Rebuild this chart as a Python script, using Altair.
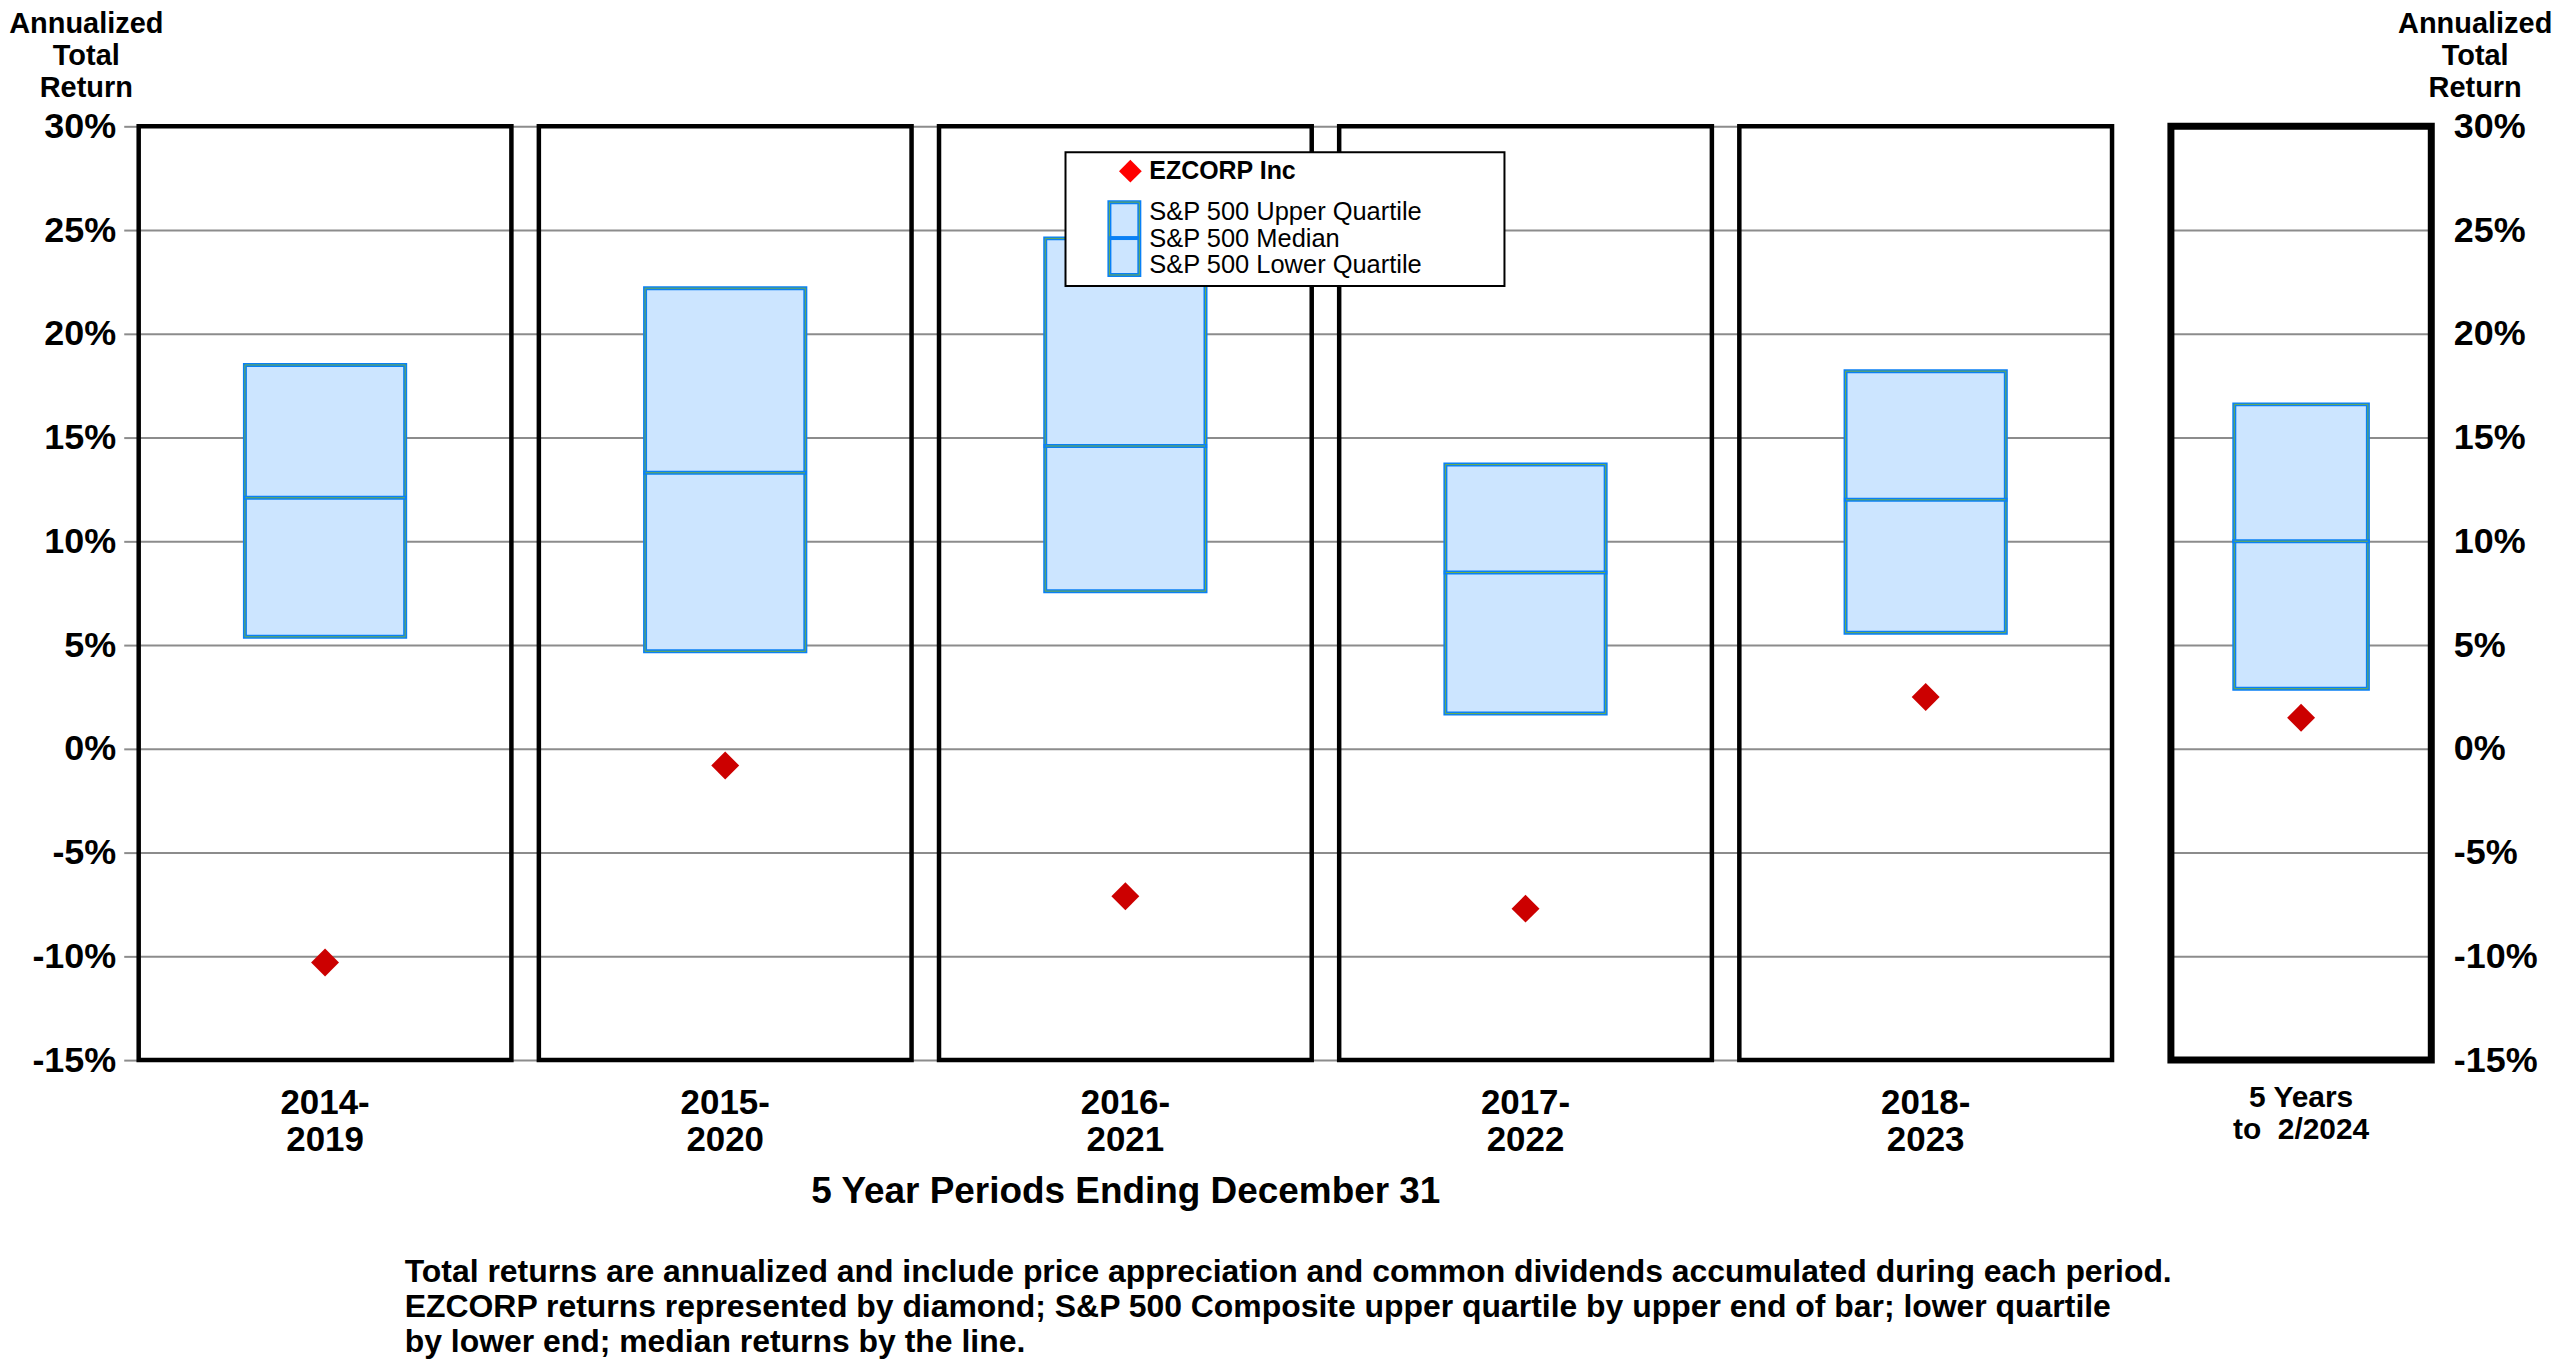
import altair as alt
import pandas as pd

FONT = "Liberation Sans"

# ---- data (annualized total return, %) ----
periods = ["2014-|2019", "2015-|2020", "2016-|2021", "2017-|2022", "2018-|2023"]
sp_upper = [18.5, 22.2, 24.6, 13.7, 18.2]
sp_median = [12.1, 13.3, 14.6, 8.5, 12.0]
sp_lower = [5.4, 4.7, 7.6, 1.7, 5.6]
ezcorp = [-10.3, -0.8, -7.1, -7.7, 2.5]

last_period = ["5 Years|to\u00a0 2/2024"]
last_upper = [16.6]
last_median = [10.0]
last_lower = [2.9]
last_ezcorp = [1.5]

y_domain = [-15, 30]
y_ticks = [-15, -10, -5, 0, 5, 10, 15, 20, 25, 30]

y_title = ["Annualized", "Total", "Return"]
x_title = "5 Year Periods Ending December 31"
legend_company = "EZCORP Inc"
legend_sp = ["S&P 500 Upper Quartile", "S&P 500 Median", "S&P 500 Lower Quartile"]
footnote = [
    "Total returns are annualized and include price appreciation and common dividends accumulated during each period.",
    "EZCORP returns represented by diamond; S&P 500 Composite upper quartile by upper end of bar; lower quartile",
    "by lower end; median returns by the line.",
]

BOX_FILL = "#cce5ff"
BOX_STROKE = "#0a80f5"
BOX_INNER = "#6fae4a"
GRID = "#8c8c8c"


def make_df(p, up, med, low, ez):
    return pd.DataFrame({
        "period": p, "upper": up, "median": med, "lower": low, "ezcorp": ez,
        "lo": [y_domain[0]] * len(p), "hi": [y_domain[1]] * len(p),
    })


def y_axis(orient, title_x, label_pad, ticks):
    kw = dict(
        orient=orient, values=y_ticks, labelExpr="datum.value + '%'",
        labelFont=FONT, labelFontSize=36, labelFontWeight="bold", labelColor="black",
        labelPadding=label_pad, grid=True, gridColor=GRID, gridWidth=2,
        domain=False, titleFont=FONT, titleFontSize=29, titleFontWeight="bold",
        titleColor="black", titleAngle=0, titleAlign="center", titleBaseline="alphabetic",
        titleX=title_x, titleY=-94, titleLineHeight=32,
    )
    if ticks:
        kw.update(ticks=True, tickSize=15, tickColor=GRID, tickWidth=2)
    else:
        kw.update(ticks=False, tickSize=0)
    return alt.Axis(**kw)


def panel(df, width, pad_inner, frame_w, box_frac, tick_size, yax, xax):
    order = list(df["period"])
    yscale = alt.Scale(domain=y_domain, nice=False, zero=False)
    x = alt.X("period:N", sort=order, scale=alt.Scale(paddingInner=pad_inner, paddingOuter=0), axis=xax)

    def Y(f):
        return alt.Y(f, scale=yscale, axis=yax, title=y_title)

    base = alt.Chart(df)
    frame = base.mark_bar(fill="white", fillOpacity=0, stroke="black", strokeWidth=frame_w).encode(
        x=x, y=Y("lo:Q"), y2="hi:Q")
    box = base.mark_bar(width=alt.RelativeBandSize(box_frac), fill=BOX_FILL, stroke=BOX_STROKE,
                        strokeWidth=4).encode(x=x, y=Y("lower:Q"), y2="upper:Q")
    box_inner = base.mark_bar(width=alt.RelativeBandSize(box_frac), fill="white", fillOpacity=0,
                              stroke=BOX_INNER, strokeWidth=1).encode(x=x, y=Y("lower:Q"), y2="upper:Q")
    med = base.mark_tick(color=BOX_STROKE, thickness=4, size=tick_size, opacity=1).encode(
        x=x, y=Y("median:Q"))
    med_inner = base.mark_tick(color=BOX_INNER, thickness=1, size=tick_size - 4, opacity=1).encode(
        x=x, y=Y("median:Q"))
    pts = base.mark_point(shape="diamond", filled=True, color="#cc0000", size=784, opacity=1,
                          strokeWidth=0).encode(x=x, y=Y("ezcorp:Q"))
    return [frame, box, box_inner, med, med_inner, pts]


left_x_axis = alt.Axis(
    labelExpr="split(datum.label, '|')", labelAngle=0, labelFont=FONT, labelFontSize=35,
    labelFontWeight="bold", labelColor="black", labelLineHeight=37, labelPadding=26,
    labelBaseline="top", ticks=False, tickSize=0, domain=False, grid=False,
    title=x_title, titleFont=FONT, titleFontSize=37, titleFontWeight="bold",
    titleColor="black", titleBaseline="alphabetic", titleY=143,
)
right_x_axis = alt.Axis(
    labelExpr="split(datum.label, '|')", labelAngle=0, labelFont=FONT, labelFontSize=30,
    labelFontWeight="bold", labelColor="black", labelLineHeight=33, labelPadding=22,
    labelBaseline="top", ticks=False, tickSize=0, domain=False, grid=False, title=None,
)

left_layers = panel(make_df(periods, sp_upper, sp_median, sp_lower, ezcorp),
                    1978, 0.0686, 4.5, 0.43, 164,
                    y_axis("left", -53, 8, True), left_x_axis)

# ---- legend box (annotation drawn on top of the panels) ----
leg = pd.DataFrame({"k": [0]})
legend_layers = [
    alt.Chart(leg).mark_rect(fill="white", stroke="black", strokeWidth=2).encode(
        x=alt.value(929), x2=alt.value(1369), y=alt.value(26), y2=alt.value(160)),
    alt.Chart(leg).mark_point(shape="diamond", filled=True, color="#ff0000", size=520, opacity=1,
                              strokeWidth=0).encode(x=alt.value(994), y=alt.value(45)),
    alt.Chart(leg).mark_text(text=legend_company, align="left", baseline="middle", font=FONT,
                             fontSize=25, fontWeight="bold", color="black").encode(
        x=alt.value(1013), y=alt.value(45)),
    alt.Chart(leg).mark_rect(fill=BOX_FILL, stroke=BOX_STROKE, strokeWidth=4).encode(
        x=alt.value(973), x2=alt.value(1003), y=alt.value(76), y2=alt.value(149)),
    alt.Chart(leg).mark_rect(fill="white", fillOpacity=0, stroke=BOX_INNER, strokeWidth=1).encode(
        x=alt.value(973), x2=alt.value(1003), y=alt.value(76), y2=alt.value(149)),
    alt.Chart(leg).mark_rule(color=BOX_STROKE, strokeWidth=4).encode(
        x=alt.value(973), x2=alt.value(1003), y=alt.value(112)),
    alt.Chart(leg).mark_text(text=legend_sp, align="left", baseline="middle", font=FONT,
                             fontSize=25.5, lineHeight=26.5, color="black").encode(
        x=alt.value(1013), y=alt.value(86)),
]

left = alt.layer(*left_layers, *legend_layers).properties(width=1978, height=936)

right_layers = panel(make_df(last_period, last_upper, last_median, last_lower, last_ezcorp),
                     261, 0, 7, 0.513, 138,
                     y_axis("right", 43.5, 22, False), right_x_axis)
right = alt.layer(*right_layers).properties(width=261, height=936)

chart = alt.hconcat(left, right, spacing=52).properties(
    padding=0,
    background="white",
    title=alt.TitleParams(
        text=footnote, orient="bottom", anchor="start", dx=397, offset=47,
        font=FONT, fontSize=32, fontWeight="bold", lineHeight=35.5, color="black",
    ),
).configure_view(strokeWidth=0)

chart.save("out.html", embed_options={"renderer": "svg", "actions": False})
